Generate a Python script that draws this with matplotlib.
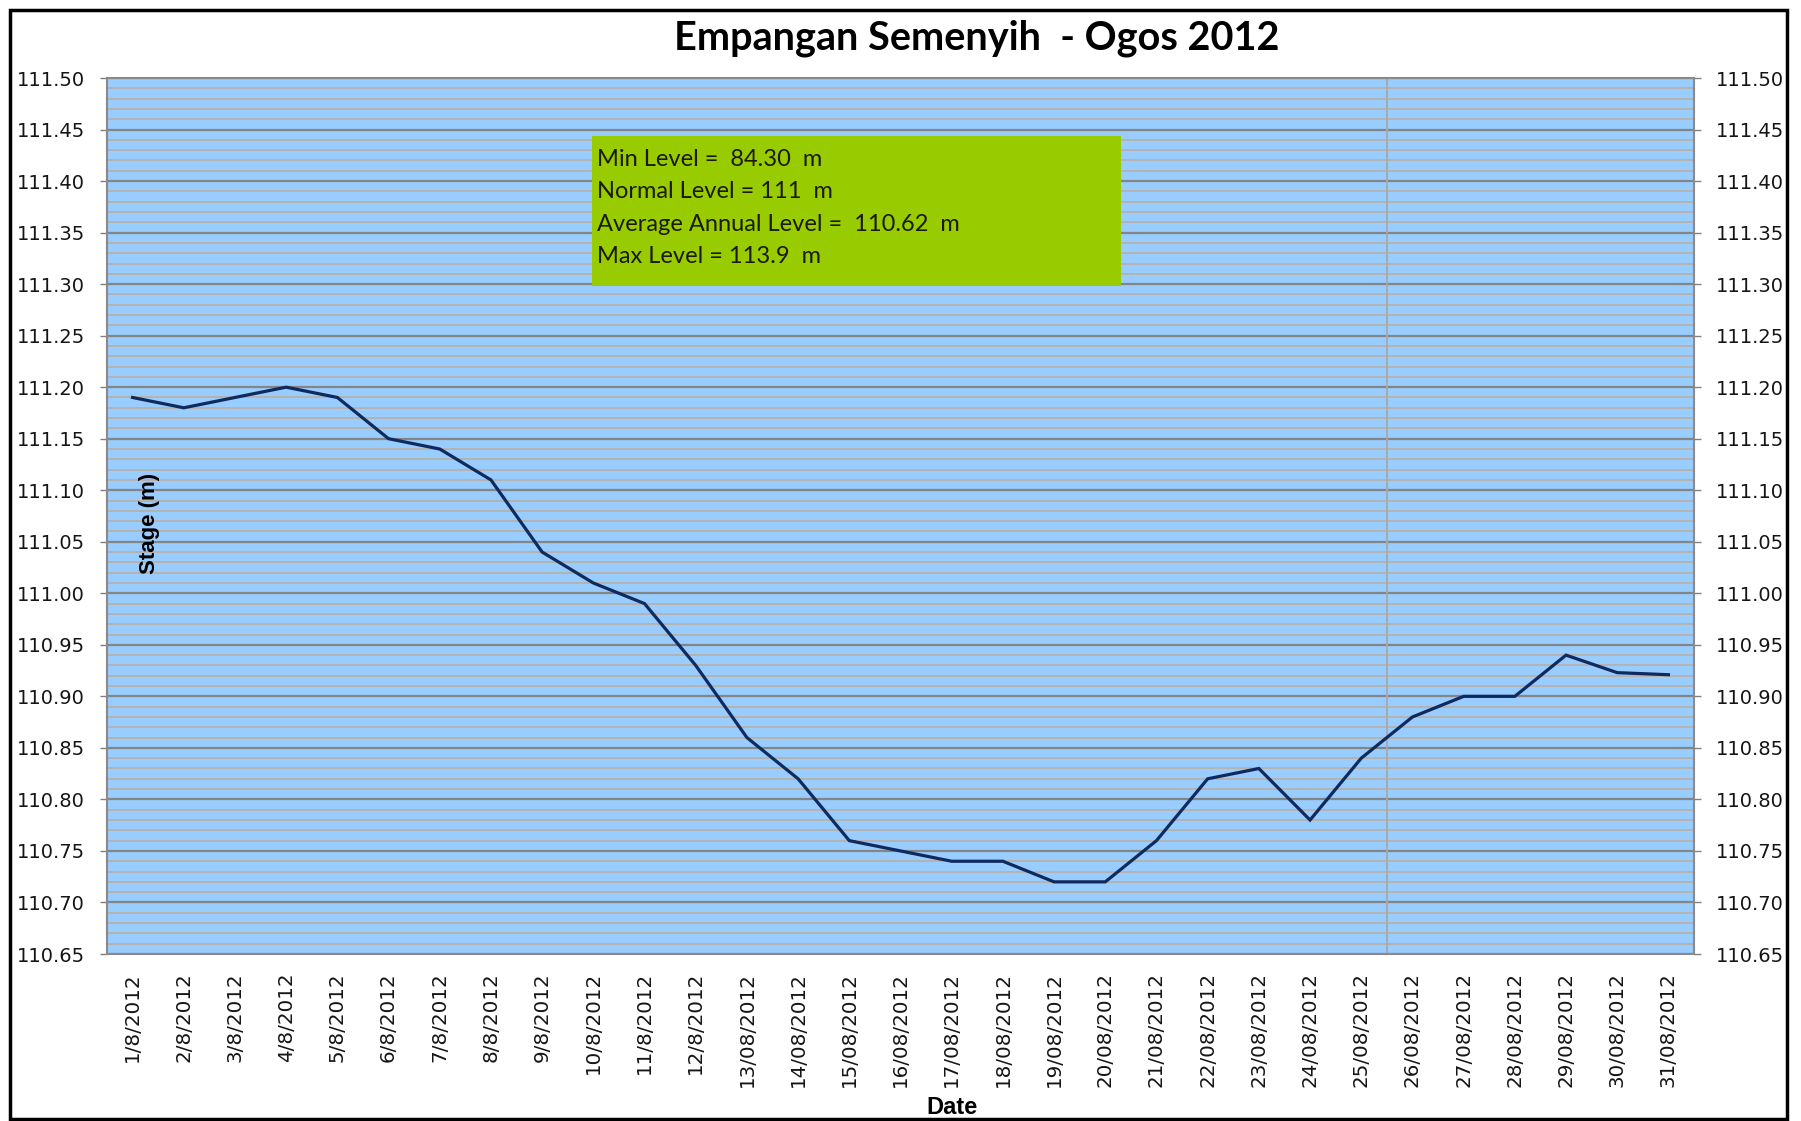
import matplotlib
matplotlib.use("Agg")
import matplotlib.pyplot as plt
from matplotlib.patches import Rectangle
from matplotlib.ticker import MultipleLocator, FixedLocator
import numpy as np

dates = ["1/8/2012", "2/8/2012", "3/8/2012", "4/8/2012", "5/8/2012", "6/8/2012",
         "7/8/2012", "8/8/2012", "9/8/2012", "10/8/2012", "11/8/2012", "12/8/2012",
         "13/08/2012", "14/08/2012", "15/08/2012", "16/08/2012", "17/08/2012",
         "18/08/2012", "19/08/2012", "20/08/2012", "21/08/2012", "22/08/2012",
         "23/08/2012", "24/08/2012", "25/08/2012", "26/08/2012", "27/08/2012",
         "28/08/2012", "29/08/2012", "30/08/2012", "31/08/2012"]
stage = [111.19, 111.18, 111.19, 111.20, 111.19, 111.15, 111.14, 111.11, 111.04,
         111.01, 110.99, 110.93, 110.86, 110.82, 110.76, 110.75, 110.74, 110.74,
         110.72, 110.72, 110.76, 110.82, 110.83, 110.78, 110.84, 110.88, 110.90,
         110.90, 110.94, 110.923, 110.921]
y_ticks = [110.65, 110.70, 110.75, 110.80, 110.85, 110.90, 110.95, 111.00,
           111.05, 111.10, 111.15, 111.20, 111.25, 111.30, 111.35, 111.40,
           111.45, 111.50]
info_lines = ["Min Level =  84.30  m", "Normal Level = 111  m",
              "Average Annual Level =  110.62  m", "Max Level = 113.9  m"]
title = "Empangan Semenyih  - Ogos 2012"

W, H = 1801, 1121
fig = plt.figure(figsize=(W / 100, H / 100), dpi=100)
fig.patch.set_facecolor("white")

ax = fig.add_axes([107 / W, 1 - 954 / H, (1694 - 107) / W, (954 - 78) / H])
ax.set_facecolor("#99CCFF")

x = np.arange(len(dates))
ax.set_xlim(-0.5, len(dates) - 0.5)
ax.set_ylim(y_ticks[0], y_ticks[-1])

# grid
ax.yaxis.set_major_locator(FixedLocator(y_ticks))
ax.yaxis.set_minor_locator(MultipleLocator(0.01))
ax.grid(which="minor", axis="y", color="#B5B3AE", linewidth=1.4, zorder=1)
ax.grid(which="major", axis="y", color="#858585", linewidth=1.6, zorder=1)
ax.set_axisbelow(True)
ax.axvline(24.5, color="#A8A8A8", linewidth=1.3, zorder=1)

ax.plot(x, stage, color="#0F2A5E", linewidth=2.3, zorder=3, solid_joinstyle="miter")

# ticks
ax.set_yticklabels([f"{v:.2f}" for v in y_ticks])
ax.tick_params(axis="y", which="major", direction="out", length=5, width=1,
               color="#808080", labelsize=14, labelcolor="#151515", pad=11,
               left=True, right=True, labelleft=True, labelright=True)
ax.tick_params(axis="y", which="minor", length=0)
ax.set_xticks(x)
ax.set_xticklabels(dates, rotation=90, fontsize=14.3, color="#151515")
ax.tick_params(axis="x", length=0, pad=13)

for s in ["left", "bottom", "right", "top"]:
    ax.spines[s].set_color("#8A8A8A")
    ax.spines[s].set_linewidth(1.5)

# info box
ax.add_patch(Rectangle((0.3054, 0.7626), 0.3336, 0.1712, transform=ax.transAxes,
                       facecolor="#99CC00", edgecolor="none", zorder=4))
for line, yy in zip(info_lines, [0.9075, 0.8699, 0.8322, 0.7957]):
    ax.text(0.3085, yy, line, transform=ax.transAxes, fontsize=17,
            family="Lato", color="#1A1A05", va="center", ha="left", zorder=5)

ax.text((149 - 107) / 1587, 0.492, "Stage (m)", transform=ax.transAxes,
        rotation=90, fontsize=16, fontweight="bold",
        family=["Liberation Sans Narrow", "Liberation Sans"],
        color="black", ha="center", va="center", zorder=5)

fig.text(977 / W, 1 - 38 / H, title, fontsize=28.5, fontweight="bold",
         family="Lato", ha="center", va="center", color="black")
fig.text(952 / W, 1 - 1107 / H, "Date", fontsize=17, fontweight="bold",
         family=["Liberation Sans Narrow", "Liberation Sans"],
         ha="center", va="center", color="black")

# figure border
fig.patches.append(Rectangle((10 / W, 1 - 1119 / H), (1787 - 10) / W, (1119 - 10) / H,
                             transform=fig.transFigure, fill=False,
                             edgecolor="black", linewidth=2.5, zorder=10))

fig.savefig("out.png", dpi=100)
